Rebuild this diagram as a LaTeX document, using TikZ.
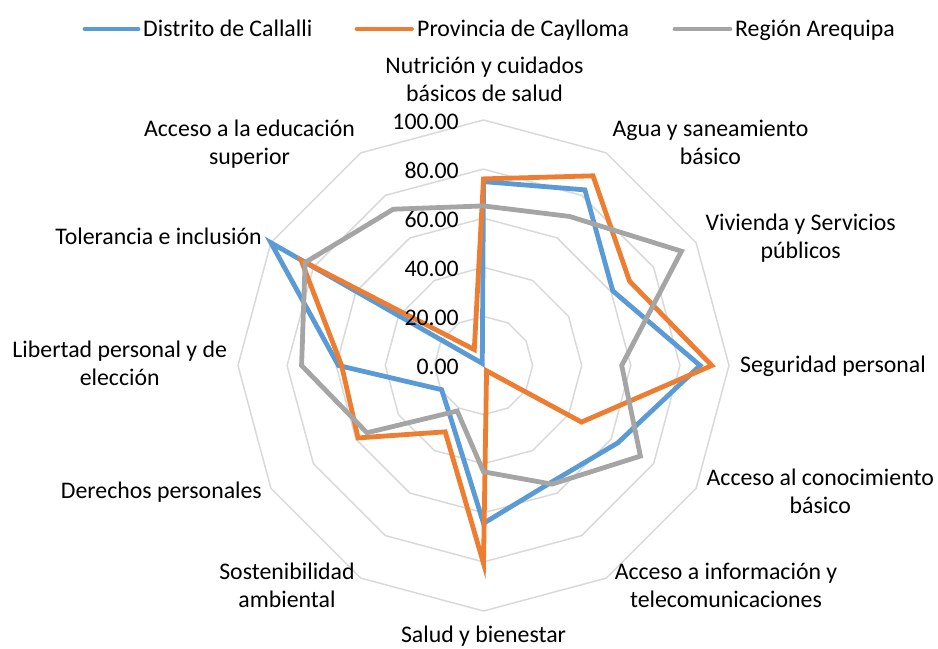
\documentclass[tikz,border=0pt]{standalone}
\usepackage{fontspec}
\setmainfont{Carlito}
\definecolor{cblue}{HTML}{5B9BD5}
\definecolor{corange}{HTML}{ED7D31}
\definecolor{cgray}{HTML}{A5A5A5}
\definecolor{cgrid}{HTML}{D9D9D9}
\begin{document}
\begin{tikzpicture}[x=1bp,y=1bp,
  txt/.style={font=\fontsize{23.9pt}{28.6pt}\selectfont, inner sep=0pt, text=black},
  lab/.style={txt, align=center, anchor=base},
  val/.style={txt, anchor=east},
  grid/.style={draw=cgrid, line width=1.5bp},
  ser/.style={line width=4.8bp, line join=miter},
  leg/.style={line width=4.8bp, line cap=round}]
\useasboundingbox (0,0) rectangle (938,649);
% rings and series
\begin{scope}[shift={(483.5,283.5)}, x=2.455bp, y=2.455bp]
  \foreach \k in {20,40,60,80,100}
    \draw[grid] (90:\k) \foreach \a in {60,30,...,-240} {-- (\a:\k)} -- cycle;
  \draw[ser, cblue] (90:74.9) -- (60:82.6) -- (30:60.8) -- (0:88.2) -- (-30:63.1) -- (-60:55) -- (-90:64.3) -- (-120:26) -- (-150:19.7) -- (180:59.1) -- (150:100) -- (120:1) -- cycle;
  \draw[ser, corange] (90:76) -- (60:89.2) -- (30:68.7) -- (0:93) -- (-30:46.1) -- (-60:2.5) -- (-90:80.6) -- (-120:31.2) -- (-150:59) -- (180:57.8) -- (150:85.8) -- (120:7.5) -- cycle;
  \draw[ser, cgray] (90:65) -- (60:70.1) -- (30:93.1) -- (0:56.3) -- (-30:73.8) -- (-60:55.8) -- (-90:43.3) -- (-120:21.4) -- (-150:54.8) -- (180:74.1) -- (150:83.9) -- (120:73.5) -- cycle;
\end{scope}
% value axis labels
\node[val] (v0) at (459,282) {0.00};
\node[val] (v20) at (459,331.1) {20.00};
\node[val] (v40) at (459,380.2) {40.00};
\node[val] (v60) at (459,429.3) {60.00};
\node[val] (v80) at (459,478.4) {80.00};
\node[val] (v100) at (459,527.5) {100.00};
% category labels (base anchor = baseline of last line)
\node[lab] (nutr) at (484.5,547.3) {Nutrición y cuidados\\básicos de salud};
\node[lab] (agua) at (710.5,484.4) {Agua y saneamiento\\básico};
\node[lab] (viv) at (800.7,390.4) {Vivienda y Servicios\\públicos};
\node[txt, anchor=base west] (seg) at (740,276.3) {Seguridad personal};
\node[lab] (acon) at (820.3,135.4) {Acceso al conocimiento\\básico};
\node[lab] (ainf) at (726,41) {Acceso a información y\\telecomunicaciones};
\node[lab] (salud) at (483.5,6.3) {Salud y bienestar};
\node[lab] (sost) at (287,41.3) {Sostenibilidad\\ambiental};
\node[txt, anchor=base east] (der) at (262,150) {Derechos personales};
\node[lab] (lib) at (119.7,263.1) {Libertad personal y de\\elección};
\node[txt, anchor=base east] (tol) at (262,404) {Tolerancia e inclusión};
\node[lab] (aedu) at (249.5,484.4) {Acceso a la educación\\superior};
% legend
\coordinate (lb1) at (85,620); \coordinate (lb2) at (138,620);
\coordinate (lo1) at (357,620); \coordinate (lo2) at (411.5,620);
\coordinate (lg1) at (675,620); \coordinate (lg2) at (730,620);
\draw[leg, cblue] (lb1) -- (lb2);
\draw[leg, corange] (lo1) -- (lo2);
\draw[leg, cgray] (lg1) -- (lg2);
\node[txt, anchor=base west] (tb) at (143,612.5) {Distrito de Callalli};
\node[txt, anchor=base west] (to) at (417,612.5) {Provincia de Caylloma};
\node[txt, anchor=base west] (tg) at (735,612.5) {Región Arequipa};
\end{tikzpicture}
\end{document}
